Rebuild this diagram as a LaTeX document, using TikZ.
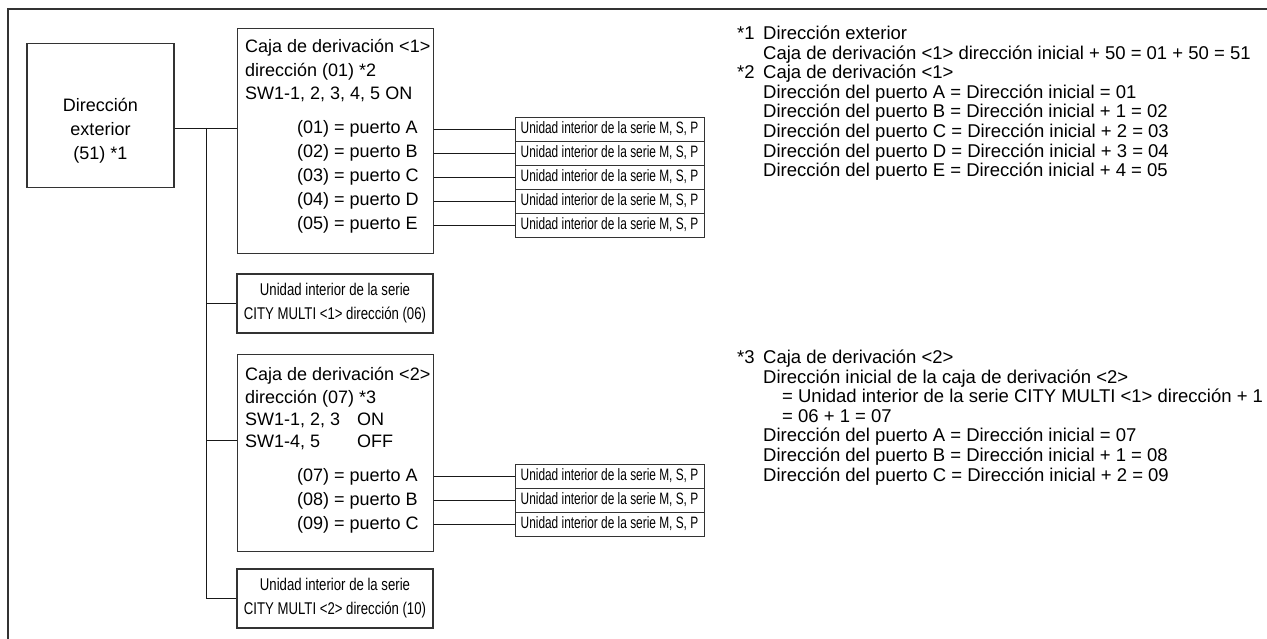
\documentclass[tikz,border=0pt]{standalone}
\usepackage{fontspec}
\setmainfont{Liberation Sans}
\newfontfamily\narrowfont[FakeStretch=0.72]{Liberation Sans}
\newfontfamily\cityfont[FakeStretch=0.775]{Liberation Sans}
\usetikzlibrary{positioning}

\tikzset{
  box/.style={draw=black!80, line width=1.1pt, inner sep=0pt},
  unitbox/.style={draw=black!80, line width=0.9pt, minimum width=189pt, minimum height=24pt, inner sep=0pt, font=\narrowfont\fontsize{16.5}{18}\selectfont},
  citybox/.style={box, minimum width=196pt, minimum height=59pt, align=center, font=\cityfont\fontsize{17}{24}\selectfont},
  txt/.style={anchor=west, inner sep=0pt, font=\fontsize{18}{20}\selectfont, text height=13pt, text depth=4pt},
  note/.style={txt, font=\fontsize{18.5}{20}\selectfont},
  wire/.style={draw=black!90, line width=0.9pt}
}

\begin{document}
\begin{tikzpicture}[x=1pt,y=-1pt]
    \useasboundingbox (0,0) rectangle (1267,639);
    % Frame
    \draw[black!80, line width=1.3pt] (8,639) -- (8,9) -- (1267,9);

    % Outdoor unit
    \node[box, minimum width=147pt, minimum height=144pt, anchor=north] (outdoor) at (100.5,43) {};
    \node[align=center, inner sep=0pt, font=\fontsize{18}{24}\selectfont] (outtxt) at (100.5,131) {Dirección\\exterior\\(51) *1};

    % Branch box 1
    \node[box, minimum width=196pt, minimum height=225pt, anchor=north west] (caja1) at (237,28) {};
    \node[txt] (c1a) at (245,48) {Caja de derivación <1>};
    \node[txt] (c1b) at (245,72) {dirección (01) *2};
    \node[txt] (c1c) at (245,95) {SW1-1, 2, 3, 4, 5 ON};
    \foreach \p/\n [count=\i from 0] in {A/01,B/02,C/03,D/04,E/05} {
        \node[txt] (p1\p) at (297,{129+24*\i}) {(\n) = puerto \p};
        \node[unitbox] (u1\p) at (609.5,{129+24*\i}) {Unidad interior de la serie M, S, P};
        \draw[wire] (u1\p.west) -- (u1\p.west -| caja1.east);
    }

    % CITY MULTI 1
    \node[citybox] (city1) at (335,303.5) {Unidad interior de la serie\\CITY MULTI <1> dirección (06)};

    % Branch box 2
    \node[box, minimum width=196pt, minimum height=197pt, anchor=north west] (caja2) at (237,354) {};
    \node[txt] (c2a) at (245,376) {Caja de derivación <2>};
    \node[txt] (c2b) at (245,399) {dirección (07) *3};
    \node[txt] (c2c) at (245,421) {\makebox[112pt][l]{SW1-1, 2, 3}ON};
    \node[txt] (c2d) at (245,443) {\makebox[112pt][l]{SW1-4, 5}OFF};
    \foreach \p/\n [count=\i from 0] in {A/07,B/08,C/09} {
        \node[txt] (p2\p) at (297,{477+24*\i}) {(\n) = puerto \p};
        \node[unitbox] (u2\p) at (609.5,{476+24*\i}) {Unidad interior de la serie M, S, P};
        \draw[wire] (u2\p.west) -- (u2\p.west -| caja2.east);
    }

    % CITY MULTI 2
    \node[citybox] (city2) at (335,598.5) {Unidad interior de la serie\\CITY MULTI <2> dirección (10)};

    % Bus lines
    \coordinate (bus) at (206,128);
    \coordinate (tap2) at (237,440);
    \draw[wire] (bus -| outdoor.east) -- (bus -| caja1.west);
    \draw[wire] (bus) |- (city2.west);
    \draw[wire] (bus |- city1.west) -- (city1.west);
    \draw[wire] (bus |- tap2) -- (tap2);

    % Notes
    \node[note] (n1) at (737,35) {*1};
    \node[note] (n2) at (737,74.2) {*2};
    \foreach \x/\t [count=\i from 0] in {763/{Dirección exterior},
        763/{Caja de derivación <1> dirección inicial + 50 = 01 + 50 = 51},
        763/{Caja de derivación <1>},
        763/{Dirección del puerto A = Dirección inicial = 01},
        763/{Dirección del puerto B = Dirección inicial + 1 = 02},
        763/{Dirección del puerto C = Dirección inicial + 2 = 03},
        763/{Dirección del puerto D = Dirección inicial + 3 = 04},
        763/{Dirección del puerto E = Dirección inicial + 4 = 05}} {
        \node[note] (na\i) at (\x,{35+19.6*\i}) {\t};
    }
    \node[note] (n3) at (737,359) {*3};
    \foreach \x/\t [count=\i from 0] in {763/{Caja de derivación <2>},
        763/{Dirección inicial de la caja de derivación <2>},
        782/{= Unidad interior de la serie CITY MULTI <1> dirección + 1},
        782/{= 06 + 1 = 07},
        763/{Dirección del puerto A = Dirección inicial = 07},
        763/{Dirección del puerto B = Dirección inicial + 1 = 08},
        763/{Dirección del puerto C = Dirección inicial + 2 = 09}} {
        \node[note] (nb\i) at (\x,{359+19.6*\i}) {\t};
    }
\end{tikzpicture}
\end{document}
